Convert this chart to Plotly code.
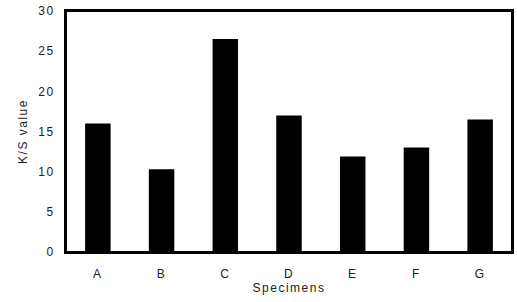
import plotly.graph_objects as go

specimens = ["A", "B", "C", "D", "E", "F", "G"]
ks_values = [16.0, 10.3, 26.5, 17.0, 11.9, 13.0, 16.5]
y_ticks = [0, 5, 10, 15, 20, 25, 30]

SP = '<span style="letter-spacing:1.5px">{}</span>'

fig = go.Figure(
    go.Bar(x=specimens, y=ks_values, marker=dict(color="black", line=dict(width=0)))
)

font = dict(family="Liberation Sans, Arial, sans-serif", size=12, color="#222")

fig.update_layout(
    width=517, height=302,
    margin=dict(l=66, r=3, t=11, b=50),
    paper_bgcolor="white", plot_bgcolor="white",
    bargap=0.6,
    font=font,
    showlegend=False,
    shapes=[dict(type="rect", xref="paper", yref="paper", x0=0, y0=0, x1=1, y1=1,
                 line=dict(color="black", width=2), layer="above")],
)
fig.update_xaxes(
    range=[-0.5, 6.5],
    tickvals=specimens, ticktext=[SP.format(s) for s in specimens],
    showline=True, linecolor="black", linewidth=2, mirror=True,
    showgrid=False, ticks="", ticklabelstandoff=10,
    title=dict(text=SP.format("Specimens"), standoff=1, font=font),
)
fig.update_yaxes(
    range=[0, 30], tickvals=y_ticks, ticktext=[SP.format(v) for v in y_ticks],
    showline=True, linecolor="black", linewidth=2, mirror=True,
    showgrid=False, zeroline=False, ticks="", ticklabelstandoff=7,
    title=dict(text=SP.format("K/S value"), standoff=8, font=font),
)

fig.write_html(
    "out.html",
    config={"displayModeBar": False},
    post_script="document.body.style.margin='0';document.body.style.overflow='hidden';",
)
